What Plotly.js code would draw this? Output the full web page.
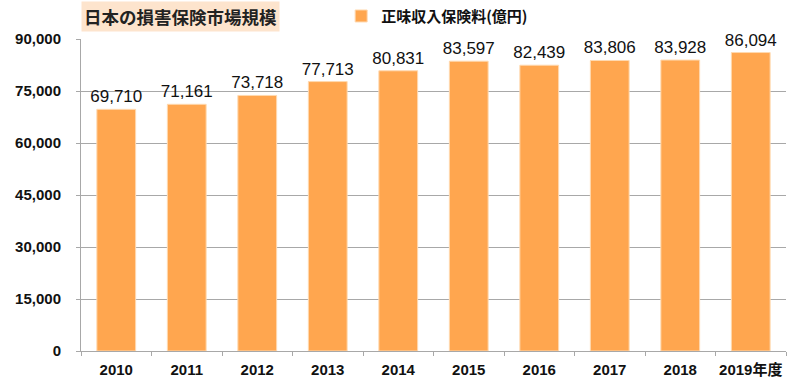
<!DOCTYPE html>
<html>
<head>
<meta charset="utf-8">
<script src="https://cdn.plot.ly/plotly-3.0.1.min.js"></script>
<style>html,body{margin:0;padding:0;background:#fff;}#chart{width:800px;height:389px;}</style>
</head>
<body>
<div id="chart"></div>
<script>
const categories = ["2010", "2011", "2012", "2013", "2014", "2015", "2016", "2017", "2018", "2019年度"];
const premiums = [69710, 71161, 73718, 77713, 80831, 83597, 82439, 83806, 83928, 86094];
const seriesName = "正味収入保険料(億円)";
const chartTitle = "日本の損害保険市場規模";
const yTicks = [0, 15000, 30000, 45000, 60000, 75000, 90000];

const FONT = "Liberation Sans, Arial, Noto Sans CJK JP, sans-serif";
const CJK = "Noto Sans CJK JP, Liberation Sans, sans-serif";

const trace = {
  type: "bar",
  x: categories,
  y: premiums,
  name: seriesName,
  marker: {color: "#FFA64F", line: {color: "#FFD9B0", width: 1}},
  text: premiums.map(v => v.toLocaleString("en-US")),
  textposition: "outside",
  constraintext: "none",
  textfont: {family: FONT, size: 17, color: "#111"},
  cliponaxis: false,
  hoverinfo: "x+y"
};

const layout = {
  width: 800, height: 389,
  margin: {l: 81, r: 14, t: 39, b: 38, pad: 0, autoexpand: false},
  paper_bgcolor: "#fff", plot_bgcolor: "#fff",
  bargap: 0.45,
  showlegend: true,
  legend: {
    orientation: "h", x: 0.369, xanchor: "left", y: 1.073, yanchor: "middle",
    font: {family: CJK, size: 15, color: "#111", weight: "bold"},
    bgcolor: "rgba(0,0,0,0)"
  },
  xaxis: {
    type: "category",
    automargin: false,
    tickangle: 0,
    showline: true, linecolor: "#A8A8A8", linewidth: 1,
    ticks: "outside", tickson: "boundaries", ticklen: 4, tickcolor: "#A8A8A8",
    ticklabelstandoff: 5,
    tickfont: {family: FONT, size: 15, color: "#111", weight: "bold"},
    showgrid: false, zeroline: false
  },
  yaxis: {
    automargin: false,
    range: [0, 90000],
    tickvals: yTicks,
    ticktext: yTicks.map(v => v.toLocaleString("en-US")),
    showline: true, linecolor: "#A8A8A8", linewidth: 1,
    ticks: "outside", ticklen: 4, tickcolor: "#A8A8A8",
    ticklabelstandoff: 12,
    showgrid: true, gridcolor: "#A8A8A8", gridwidth: 1,
    zeroline: false,
    tickfont: {family: FONT, size: 15, color: "#111", weight: "bold"}
  },
  annotations: [{
    text: chartTitle,
    xref: "paper", yref: "paper", x: 0, xanchor: "left", y: 1.073, yanchor: "middle",
    showarrow: false,
    font: {family: CJK, size: 17.5, color: "#222", weight: "bold"},
    bgcolor: "#FDE4CD", borderpad: 2
  }]
};

Plotly.newPlot("chart", [trace], layout, {displayModeBar: false, staticPlot: true});
</script>
</body>
</html>
